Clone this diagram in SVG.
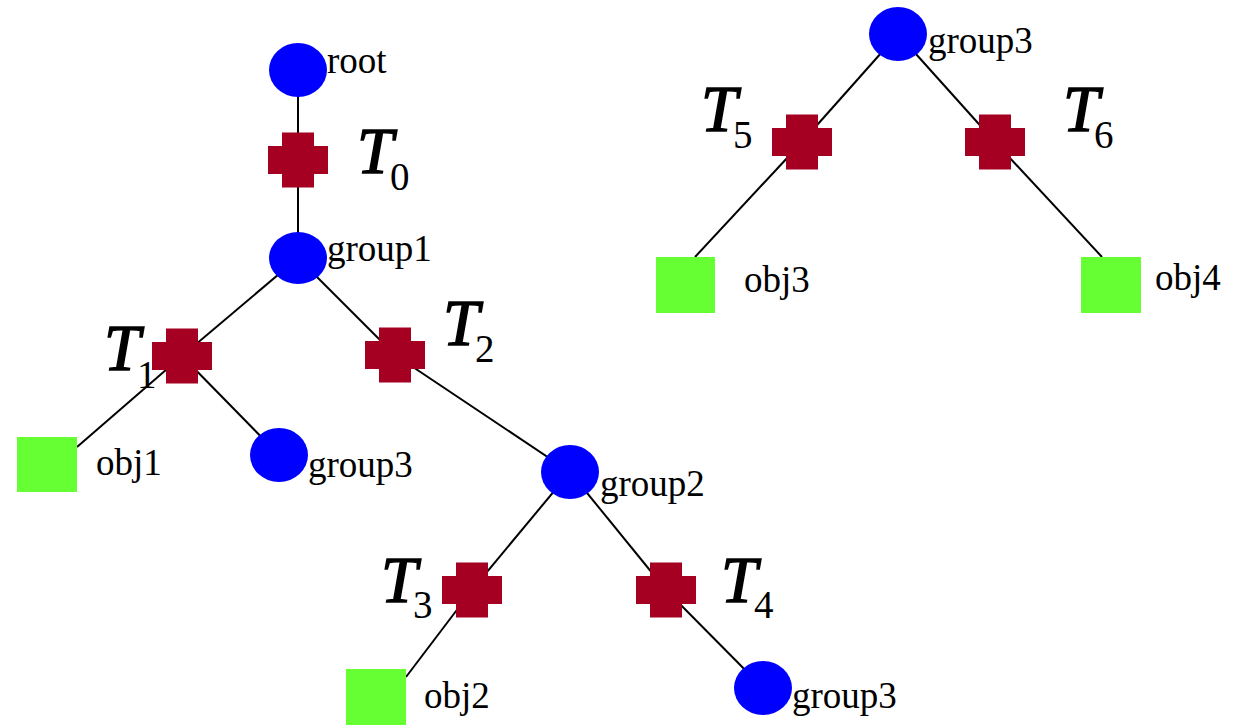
<svg xmlns="http://www.w3.org/2000/svg" width="1246" height="725" viewBox="0 0 1246 725">
<style>
.grp{fill:#0000ff}
.obj{fill:#66ff33}
.tr{fill:#a50021}
.edge{stroke:#000;stroke-width:2;fill:none}
text{font-family:"Liberation Serif","Times New Roman",serif;fill:#000}
.lbl{font-size:37px}
.tl{font-size:65px;font-style:italic;stroke:#000;stroke-width:1.5}
.ts{font-size:39px}
</style>
<defs>
<path id="cross" d="M-16,-27.5 H16 V-14 H30 V14 H16 V27.5 H-16 V14 H-30 V-14 H-16 Z"/>
</defs>
<rect width="1246" height="725" fill="#fff"/>
<g id="connectors" class="edge">
<line x1="298" y1="70" x2="298" y2="160"/>
<line x1="298" y1="160" x2="298" y2="258"/>
<line x1="298" y1="258" x2="182" y2="356"/>
<line x1="182" y1="356" x2="77" y2="447"/>
<line x1="182" y1="356" x2="279" y2="455"/>
<line x1="298" y1="258" x2="395" y2="355"/>
<line x1="395" y1="355" x2="570" y2="472"/>
<line x1="570" y1="472" x2="472" y2="590"/>
<line x1="472" y1="590" x2="406" y2="677"/>
<line x1="570" y1="472" x2="666" y2="590"/>
<line x1="666" y1="590" x2="763" y2="688"/>
<line x1="898" y1="34" x2="802" y2="142"/>
<line x1="802" y1="142" x2="695" y2="257"/>
<line x1="898" y1="34" x2="995" y2="142"/>
<line x1="995" y1="142" x2="1102" y2="257"/>
</g>
<g id="root"><ellipse class="grp" cx="298" cy="70" rx="29" ry="27"/><text class="lbl" x="327" y="73">root</text></g>
<g id="T0"><use href="#cross" class="tr" x="298" y="160"/><text class="tl" x="357" y="173">T</text><text class="ts" x="390" y="190">0</text></g>
<g id="group1"><ellipse class="grp" cx="298" cy="258" rx="29" ry="26"/><text class="lbl" x="327" y="261">group1</text></g>
<g id="T1"><use href="#cross" class="tr" x="182" y="356"/><text class="tl" x="104" y="370">T</text><text class="ts" x="137" y="388">1</text></g>
<g id="obj1"><rect class="obj" x="17" y="437" width="60" height="55"/><text class="lbl" x="96" y="475">obj1</text></g>
<g id="group3a"><ellipse class="grp" cx="279" cy="455" rx="29" ry="27"/><text class="lbl" x="308" y="477">group3</text></g>
<g id="T2"><use href="#cross" class="tr" x="395" y="355"/><text class="tl" x="443" y="345">T</text><text class="ts" x="475" y="362">2</text></g>
<g id="group2"><ellipse class="grp" cx="570" cy="472" rx="29" ry="27"/><text class="lbl" x="600" y="496">group2</text></g>
<g id="T3"><use href="#cross" class="tr" x="472" y="590"/><text class="tl" x="381" y="602">T</text><text class="ts" x="413" y="618">3</text></g>
<g id="T4"><use href="#cross" class="tr" x="666" y="590"/><text class="tl" x="721" y="602">T</text><text class="ts" x="754" y="618">4</text></g>
<g id="obj2"><rect class="obj" x="346" y="669" width="60" height="56"/><text class="lbl" x="424" y="708">obj2</text></g>
<g id="group3b"><ellipse class="grp" cx="763" cy="688" rx="29" ry="27"/><text class="lbl" x="792" y="708">group3</text></g>
<g id="group3c"><ellipse class="grp" cx="898" cy="34" rx="29" ry="27"/><text class="lbl" x="928" y="53">group3</text></g>
<g id="T5"><use href="#cross" class="tr" x="802" y="142"/><text class="tl" x="701" y="131">T</text><text class="ts" x="733" y="148">5</text></g>
<g id="T6"><use href="#cross" class="tr" x="995" y="142"/><text class="tl" x="1063" y="131">T</text><text class="ts" x="1094" y="148">6</text></g>
<g id="obj3"><rect class="obj" x="656" y="257" width="59" height="56"/><text class="lbl" x="744" y="292">obj3</text></g>
<g id="obj4"><rect class="obj" x="1081" y="257" width="60" height="56"/><text class="lbl" x="1155" y="290">obj4</text></g>
</svg>
